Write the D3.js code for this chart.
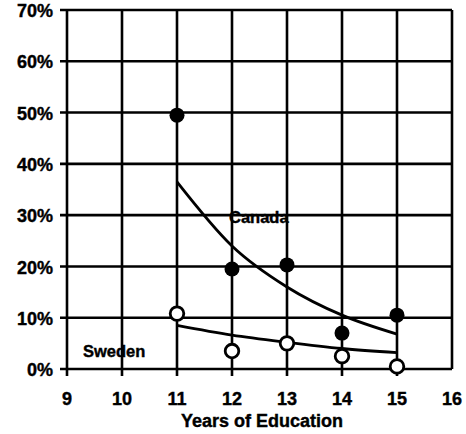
<!DOCTYPE html>
<html><head><meta charset="utf-8">
<script src="https://cdn.jsdelivr.net/npm/d3@7"></script>
<style>body{margin:0;background:#fff}svg{display:block}text{font-family:"Liberation Sans",Arial,sans-serif;font-weight:bold;fill:#000;stroke:#000;stroke-width:0.4px}</style>
</head><body><svg id="c" width="466" height="434"></svg>
<script>
const years = [11, 12, 13, 14, 15];
const canada = [49.5, 19.5, 20.3, 7, 10.5];
const sweden = [10.8, 3.5, 5, 2.5, 0.5];
const canadaFit = [36.5, 24, 16, 10.5, 6.8];
const swedenFit = [8.5, 6.6, 5.2, 4, 3.2];
const xTicks = [9, 10, 11, 12, 13, 14, 15, 16];
const yTicks = [0, 10, 20, 30, 40, 50, 60, 70];
const xTitle = "Years of Education";

const svg = d3.select("#c");
const x = d3.scaleLinear().domain([9, 16]).range([67, 452]);
const y = d3.scaleLinear().domain([0, 70]).range([369, 10]);

// grid
svg.append("g").selectAll("line").data(yTicks).join("line")
  .attr("x1", x(9) - 7).attr("x2", x(16)).attr("y1", d => y(d)).attr("y2", d => y(d))
  .attr("stroke", "#000").attr("stroke-width", 2.6);
svg.append("g").selectAll("line").data(xTicks).join("line")
  .attr("x1", d => x(d)).attr("x2", d => x(d)).attr("y1", y(70)).attr("y2", d => (d === 16 ? y(0) : y(0) + 7))
  .attr("stroke", "#000").attr("stroke-width", 2.6);

// axis labels
svg.append("g").selectAll("text").data(yTicks).join("text")
  .attr("x", 53).attr("y", d => y(d)).attr("dy", "0.4em").attr("text-anchor", "end")
  .attr("font-size", 18).text(d => d + "%");
svg.append("g").selectAll("text").data(xTicks).join("text")
  .attr("x", d => x(d)).attr("y", 405).attr("text-anchor", "middle")
  .attr("font-size", 18).text(d => d);
svg.append("text").attr("x", 262).attr("y", 427).attr("text-anchor", "middle")
  .attr("font-size", 18).text(xTitle);

// fit lines
const line = d3.line().x((d, i) => x(years[i])).y(d => y(d)).curve(d3.curveMonotoneX);
svg.append("path").attr("d", line(canadaFit)).attr("fill", "none").attr("stroke", "#000").attr("stroke-width", 2.8);
svg.append("path").attr("d", line(swedenFit)).attr("fill", "none").attr("stroke", "#000").attr("stroke-width", 2.8);

// points
svg.append("g").selectAll("circle").data(canada).join("circle")
  .attr("cx", (d, i) => x(years[i])).attr("cy", d => y(d)).attr("r", 7.5).attr("fill", "#000");
svg.append("g").selectAll("circle").data(sweden).join("circle")
  .attr("cx", (d, i) => x(years[i])).attr("cy", d => y(d)).attr("r", 6.8)
  .attr("fill", "#fff").attr("stroke", "#000").attr("stroke-width", 2.8);

// series labels
svg.append("text").attr("x", 229).attr("y", 223).attr("font-size", 16.5).text("Canada");
svg.append("text").attr("x", 83).attr("y", 357).attr("font-size", 16.5).text("Sweden");
</script></body></html>
